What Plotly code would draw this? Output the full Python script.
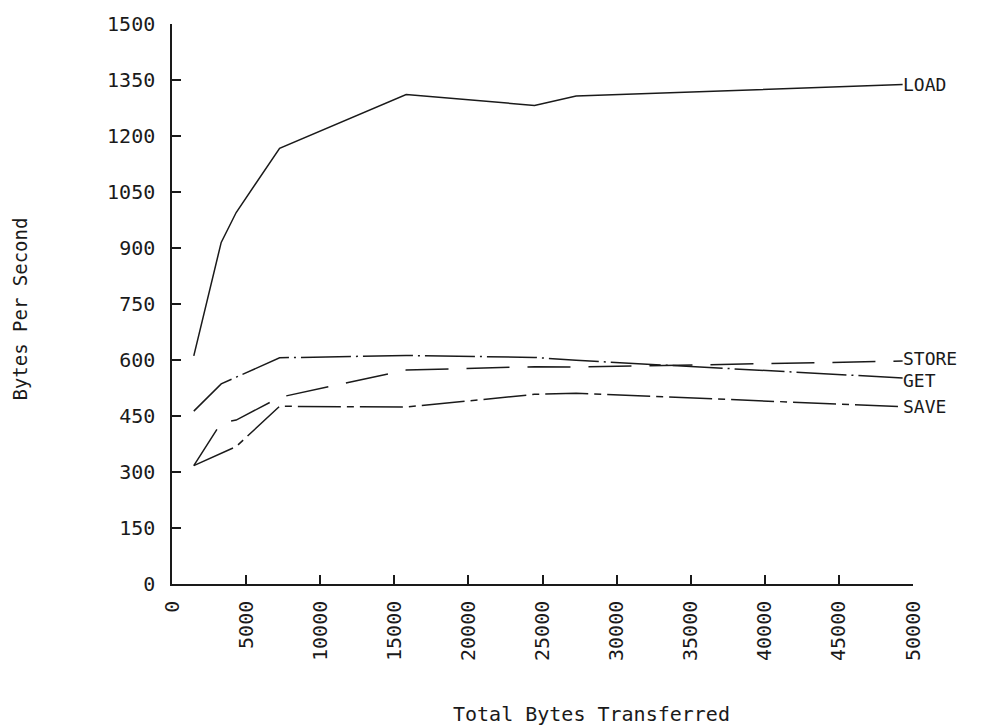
import plotly.graph_objects as go

# Data
x_bytes = [1470, 3320, 4330, 7260, 15800, 24460, 27270, 49300]
load_bps = [611, 915, 995, 1167, 1311, 1282, 1307, 1338]
store_bps = [317, 432, 439, 500, 573, 582, 581, 597]
get_bps = [463, 536, 554, 606, 612, 607, 599, 552]
save_bps = [317, 349, 368, 476, 474, 508, 511, 475]

series_names = ["LOAD", "STORE", "GET", "SAVE"]
series_vals = [load_bps, store_bps, get_bps, save_bps]
dashes = ["solid", "43px,18px", "50px,5px,2px,5px", "43px,6px,7px,6px"]
label_yshift = [0, 3, -3, 0]

y_ticks = list(range(0, 1501, 150))
x_ticks = list(range(0, 50001, 5000))

FONT = "DejaVu Sans Mono"
INK = "#1a1a1a"

fig = go.Figure()
for name, vals, dash, ys in zip(series_names, series_vals, dashes, label_yshift):
    fig.add_trace(go.Scatter(
        x=x_bytes, y=vals, mode="lines", name=name,
        line=dict(color=INK, width=1.5, dash=dash),
        showlegend=False, hoverinfo="skip",
    ))
    fig.add_annotation(
        x=x_bytes[-1], y=vals[-1], xref="x", yref="y",
        text=name, showarrow=False, xanchor="left", yanchor="middle",
        xshift=-2, yshift=ys, font=dict(family=FONT, size=18, color=INK),
    )

fig.add_annotation(
    x=(20 - 172) / 741, y=0.49, xref="paper", yref="paper",
    text="Bytes Per Second", textangle=-90, showarrow=False,
    xanchor="center", yanchor="middle",
    font=dict(family=FONT, size=19, color=INK),
)
fig.add_annotation(
    x=(591 - 172) / 741, y=(584 - 715) / 565, xref="paper", yref="paper",
    text="Total Bytes Transferred", showarrow=False,
    xanchor="center", yanchor="middle",
    font=dict(family=FONT, size=20, color=INK),
)

fig.update_layout(
    width=990, height=728,
    margin=dict(l=172, r=77, t=19, b=144),
    paper_bgcolor="white", plot_bgcolor="white",
    font=dict(family=FONT, color=INK),
)
fig.update_xaxes(
    range=[0, 50000], tickmode="array", tickvals=x_ticks,
    ticktext=[str(v) for v in x_ticks], tickangle=-90,
    ticks="inside", ticklen=9, tickwidth=1.5, tickcolor=INK,
    ticklabelstandoff=7,
    showline=True, linecolor=INK, linewidth=1.5,
    showgrid=False, zeroline=False,
    tickfont=dict(family=FONT, size=20, color=INK),
)
fig.update_yaxes(
    range=[0, 1500], tickmode="array", tickvals=y_ticks,
    ticktext=[str(v) for v in y_ticks],
    ticks="inside", ticklen=9, tickwidth=1.5, tickcolor=INK,
    ticklabelstandoff=11,
    showline=True, linecolor=INK, linewidth=1.5,
    showgrid=False, zeroline=False,
    tickfont=dict(family=FONT, size=20, color=INK),
)

fig.write_html("out.html")
